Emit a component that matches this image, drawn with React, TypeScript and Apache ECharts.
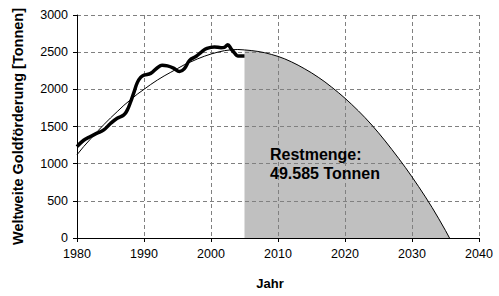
import React, { useEffect, useRef } from "react";
import * as echarts from "echarts";

const xTicks = [1980, 1990, 2000, 2010, 2020, 2030, 2040];
const yTicks = [0, 500, 1000, 1500, 2000, 2500, 3000];

// Actual world gold production (thick line)
const actualYears = [1980, 1981, 1982, 1983, 1984, 1985, 1986, 1987, 1987.5, 1988, 1988.5, 1989, 1989.5, 1990, 1991, 1992, 1992.7, 1993.5, 1994.4, 1995.3, 1996, 1996.8, 1997.8, 1998.6, 1999.4, 2000.5, 2001.5, 2002, 2002.5, 2003, 2003.5, 2004, 2005];
const actualValues = [1230, 1315, 1365, 1410, 1455, 1540, 1610, 1655, 1720, 1830, 1960, 2090, 2160, 2190, 2215, 2290, 2325, 2315, 2285, 2240, 2275, 2390, 2445, 2505, 2550, 2570, 2560, 2565, 2600, 2545, 2490, 2450, 2450];

// Fitted curve (thin line)
const curveYears = [1980, 1981, 1982, 1983, 1984, 1985, 1986, 1987, 1988, 1989, 1990, 1991, 1992, 1993, 1994, 1995, 1996, 1997, 1998, 1999, 2000, 2001, 2002, 2003, 2004, 2005, 2006, 2007, 2008, 2009, 2010, 2011, 2012, 2013, 2014, 2015, 2016, 2017, 2018, 2019, 2020, 2021, 2022, 2023, 2024, 2025, 2026, 2027, 2028, 2029, 2030, 2031, 2032, 2033, 2034, 2035, 2035.6];
const curveValues = [1120, 1230, 1330, 1430, 1525, 1615, 1700, 1785, 1860, 1935, 2000, 2065, 2125, 2180, 2230, 2280, 2330, 2370, 2410, 2445, 2475, 2500, 2520, 2532, 2536, 2530, 2522, 2510, 2493, 2470, 2443, 2410, 2370, 2325, 2275, 2222, 2163, 2100, 2030, 1957, 1880, 1797, 1710, 1618, 1520, 1415, 1305, 1190, 1072, 950, 822, 690, 553, 410, 258, 100, 0];

const forecastStart = 2005;
const yAxisTitle = "Weltweite Goldförderung [Tonnen]";
const xAxisTitle = "Jahr";
const restLabel = "Restmenge:\n49.585 Tonnen";

export default function App() {
  const ref = useRef<HTMLDivElement>(null);
  useEffect(() => {
    document.body.style.margin = "0";
    if (!ref.current) return;
    const chart = echarts.init(ref.current, null, { renderer: "svg" });
    const curve = curveYears.map((y, i) => [y, curveValues[i]]);
    const rest = curve.filter((p) => p[0] >= forecastStart);
    const actual = actualYears.map((y, i) => [y, actualValues[i]]);
    const font = "Arial, 'Liberation Sans', sans-serif";
    const gridLine = { show: true, lineStyle: { color: "#808080", type: [4, 3], width: 1 } };
    chart.setOption({
      animation: false,
      backgroundColor: "#ffffff",
      grid: { left: 77, right: 20, top: 15, bottom: 58 },
      xAxis: {
        type: "value",
        min: xTicks[0],
        max: xTicks[xTicks.length - 1],
        interval: 10,
        z: 3,
        name: xAxisTitle,
        nameLocation: "middle",
        nameGap: 39,
        nameTextStyle: { fontFamily: font, fontWeight: "bold", fontSize: 13, color: "#000", padding: [0, 16, 0, 0] },
        axisLine: { lineStyle: { color: "#000", width: 1 } },
        axisTick: { show: true, length: 4, lineStyle: { color: "#000" } },
        axisLabel: { fontFamily: font, fontSize: 12.5, color: "#000", margin: 9, formatter: (v: number) => String(v) },
        splitLine: gridLine,
      },
      yAxis: {
        type: "value",
        min: yTicks[0],
        max: yTicks[yTicks.length - 1],
        interval: 500,
        z: 3,
        name: yAxisTitle,
        nameLocation: "middle",
        nameGap: 52,
        nameRotate: 90,
        nameTextStyle: { fontFamily: font, fontWeight: "bold", fontSize: 14.5, color: "#000" },
        axisLine: { show: true, lineStyle: { color: "#000", width: 1 } },
        axisTick: { show: true, length: 4, lineStyle: { color: "#000" } },
        axisLabel: { fontFamily: font, fontSize: 12.5, color: "#000", margin: 9, formatter: (v: number) => String(v) },
        splitLine: gridLine,
      },
      series: [
        {
          type: "line",
          name: "Restmenge",
          data: rest,
          symbol: "none",
          z: 1,
          lineStyle: { width: 0, opacity: 0 },
          areaStyle: { color: "#c0c0c0", opacity: 1 },
        },
        {
          type: "line",
          name: "Trend",
          data: curve,
          symbol: "none",
          z: 5,
          lineStyle: { color: "#000", width: 1 },
        },
        {
          type: "line",
          name: "Förderung",
          data: actual,
          symbol: "none",
          smooth: 0.4,
          z: 6,
          lineStyle: { color: "#000", width: 3.5 },
        },
      ],
      graphic: [
        {
          type: "text",
          left: 270,
          top: 145,
          z: 10,
          style: { text: restLabel, font: `bold 16px ${font}`, fill: "#000", lineHeight: 19 },
        },
      ],
    });
    return () => chart.dispose();
  }, []);
  return <div ref={ref} style={{ width: 499, height: 296 }} />;
}
